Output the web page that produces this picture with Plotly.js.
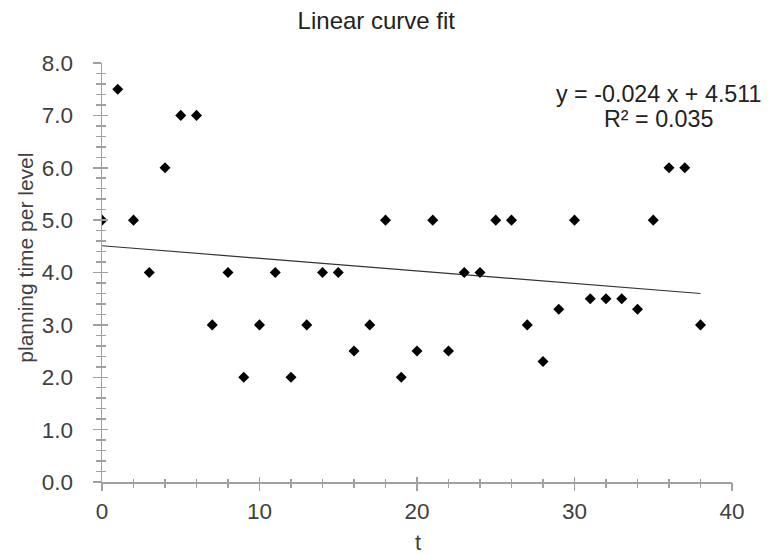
<!DOCTYPE html>
<html>
<head>
<meta charset="utf-8">
<script src="https://cdn.plot.ly/plotly-3.0.1.min.js"></script>
<style>html,body{margin:0;padding:0;background:#fff;}#chart{width:768px;height:555px;}</style>
</head>
<body>
<div id="chart"></div>
<script>
// Data
var tValues = [0,1,2,3,4,5,6,7,8,9,10,11,12,13,14,15,16,17,18,19,20,21,22,23,24,25,26,27,28,29,30,31,32,33,34,35,36,37,38];
var planningTime = [5.0,7.5,5.0,4.0,6.0,7.0,7.0,3.0,4.0,2.0,3.0,4.0,2.0,3.0,4.0,4.0,2.5,3.0,5.0,2.0,2.5,5.0,2.5,4.0,4.0,5.0,5.0,3.0,2.3,3.3,5.0,3.5,3.5,3.5,3.3,5.0,6.0,6.0,3.0];
var trendSlope = -0.024;
var trendIntercept = 4.511;
var rSquared = 0.035;
var xTickVals = [0,10,20,30,40];
var yTickVals = [0,1,2,3,4,5,6,7,8];

var trendX = [tValues[0], tValues[tValues.length-1]];
var trendY = trendX.map(function(x){ return trendSlope*x + trendIntercept; });

var FONT = '"Liberation Sans", Arial, sans-serif';
var TXT = '#404040';
var AX = '#a0a0a0';
var CLEAR = 'rgba(0,0,0,0)';

function dummy(xa, ya){
  return {x:[0], y:[0], xaxis:xa, yaxis:ya, type:'scatter', mode:'markers', marker:{opacity:0}, hoverinfo:'skip', showlegend:false};
}

var traces = [
  {x: trendX, y: trendY, type:'scatter', mode:'lines', line:{color:'#333333', width:1.2}, hoverinfo:'skip', showlegend:false},
  {x: tValues, y: planningTime, type:'scatter', mode:'markers', marker:{symbol:'diamond', size:8.5, color:'#000000'}, showlegend:false},
  dummy('x2','y2'),
  dummy('x3','y3')
];

function tickAxis(base, range, vals, minorD, side, len, mlen){
  return {
    overlaying:base, matches:base, range:range, tickvals:vals, ticks:side, ticklen:len, tickwidth:1.5, tickcolor:AX,
    showticklabels:false, showline:false, showgrid:false, zeroline:false,
    minor:{dtick:minorD, tick0:0, ticks:side, ticklen:mlen, tickwidth:1.5, tickcolor:AX, showgrid:false}
  };
}

var layout = {
  width:768, height:555,
  margin:{l:102, r:36, t:63, b:73, pad:0},
  paper_bgcolor:'#ffffff', plot_bgcolor:'#ffffff',
  font:{family:FONT, color:TXT},
  showlegend:false,
  title:{text:'Linear curve fit', font:{family:FONT, size:24, color:'#222222'}, x:0.49, xanchor:'center', y:0.962, yanchor:'middle'},
  xaxis:{
    range:[0,40], tickvals:xTickVals, ticks:'outside', ticklen:8, tickwidth:1, tickcolor:CLEAR,
    showline:true, linecolor:AX, linewidth:1.5, showgrid:false, zeroline:false,
    tickfont:{family:FONT, size:22.5, color:TXT}
  },
  yaxis:{
    range:[0,8], tickvals:yTickVals, tickformat:'.1f', ticks:'outside', ticklen:23, tickwidth:1, tickcolor:CLEAR,
    showline:true, linecolor:AX, linewidth:1.5, showgrid:false, zeroline:false,
    tickfont:{family:FONT, size:22.5, color:TXT}
  },
  xaxis2: tickAxis('x', [0,40], xTickVals, 2, 'outside', 8, 5),
  yaxis2: tickAxis('y', [0,8], yTickVals, 0.2, 'outside', 8, 5),
  xaxis3: tickAxis('x', [0,40], xTickVals, 2, 'inside', 5, 3),
  yaxis3: tickAxis('y', [0,8], yTickVals, 0.2, 'inside', 6, 4),
  annotations:[
    {xref:'paper', yref:'paper', x:-0.1206, y:0.5354, xanchor:'center', yanchor:'middle', textangle:-90,
     text:'planning time per level', showarrow:false, font:{family:FONT, size:21, color:TXT}},
    {xref:'paper', yref:'paper', x:0.502, y:(482-542.3)/419, xanchor:'center', yanchor:'middle',
     text:'t', showarrow:false, font:{family:FONT, size:22, color:TXT}},
    {xref:'paper', yref:'paper', x:0.884, y:(482-94.5)/419, xanchor:'center', yanchor:'middle',
     text:'y = ' + trendSlope.toFixed(3) + ' x + ' + trendIntercept.toFixed(3),
     showarrow:false, font:{family:FONT, size:23.3, color:'#222222'}},
    {xref:'paper', yref:'paper', x:0.884, y:(482-119)/419, xanchor:'center', yanchor:'middle',
     text:'R² = ' + rSquared.toFixed(3),
     showarrow:false, font:{family:FONT, size:23.3, color:'#222222'}}
  ]
};

Plotly.newPlot('chart', traces, layout, {staticPlot:true, displayModeBar:false});
</script>
</body>
</html>
